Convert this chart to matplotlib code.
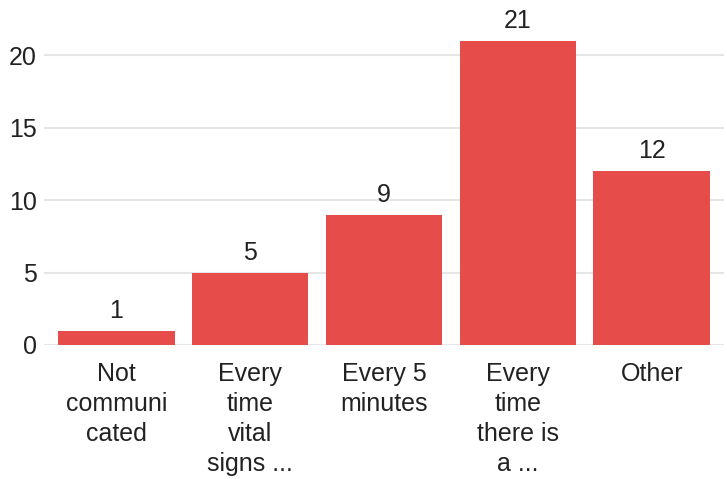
import matplotlib.pyplot as plt

plt.rcParams['font.family'] = ['Liberation Sans', 'DejaVu Sans']

categories = ["Not\ncommuni\ncated", "Every\ntime\nvital\nsigns ...", "Every 5\nminutes",
              "Every\ntime\nthere is\na ...", "Other"]
counts = [1, 5, 9, 21, 12]

fig = plt.figure(figsize=(7.27, 4.79), dpi=100)
ax = fig.add_axes([44 / 727, 134 / 479, 680 / 727, 326 / 479])

xs = range(len(categories))
bars = ax.bar(xs, counts, width=0.87, color='#e64c49', zorder=3)
for x, v in zip(xs, counts):
    ax.text(x, v + 0.55, str(v), ha='center', va='bottom', fontsize=18, color='#222222')

ax.set_xlim(-0.54, 4.54)
ax.set_ylim(0, 22.5)
ax.set_yticks([0, 5, 10, 15, 20])
ax.set_xticks(list(xs))
ax.set_xticklabels(categories, fontsize=18, color='#222222', linespacing=1.32)
ax.tick_params(axis='y', length=0, pad=5, labelsize=18, labelcolor='#222222')
ax.tick_params(axis='x', length=0, pad=12)
ax.grid(axis='y', color='#e6e6e6', linewidth=1.5, zorder=0)
for s in ax.spines.values():
    s.set_visible(False)

fig.savefig('out.png', dpi=100)
